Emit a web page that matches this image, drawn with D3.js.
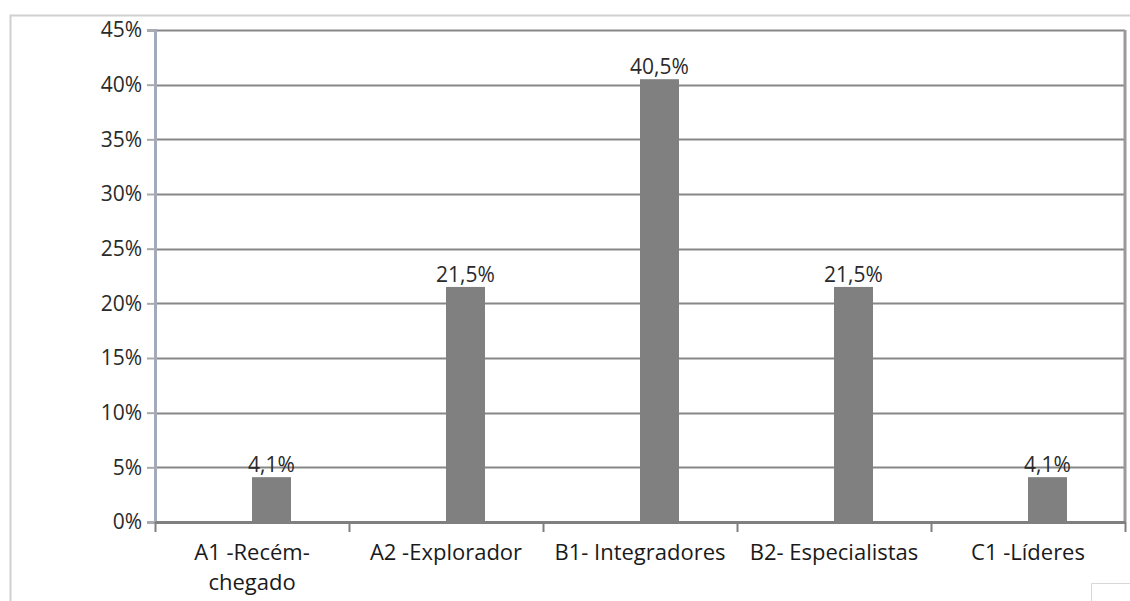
<!DOCTYPE html>
<html>
<head>
<meta charset="utf-8">
<script src="https://cdn.jsdelivr.net/npm/d3@7"></script>
<style>
  body { margin: 0; background: #fff; }
  svg { display: block; font-family: "Open Sans", sans-serif; }
</style>
</head>
<body>
<svg id="chart" width="1130" height="601"></svg>
<script>
// chart data
const categories = ["A1 -Recém-\nchegado", "A2 -Explorador", "B1- Integradores", "B2- Especialistas", "C1 -Líderes"];
const values = [4.1, 21.5, 40.5, 21.5, 4.1];
const valueLabels = ["4,1%", "21,5%", "40,5%", "21,5%", "4,1%"];
const yTicks = [0, 5, 10, 15, 20, 25, 30, 35, 40, 45];

const FONT_SIZE = 21;

const svg = d3.select("#chart");
const margin = { top: 30, right: 5, bottom: 79, left: 155 };
const width = 1130 - margin.left - margin.right;
const height = 601 - margin.top - margin.bottom;

// outer frame
svg.append("path")
  .attr("d", "M10.5,601V15.5H1130")
  .attr("fill", "none")
  .attr("stroke", "#d0d0d0")
  .attr("stroke-width", 2);

// small box bottom right
svg.append("path")
  .attr("d", "M1091.5,601V583.5H1130")
  .attr("fill", "none")
  .attr("stroke", "#d8d8d8")
  .attr("stroke-width", 1);

const g = svg.append("g").attr("transform", `translate(${margin.left},${margin.top})`);

const x = d3.scaleBand().domain(d3.range(categories.length)).range([0, width]);
// two slots per category, only the second one holds a bar
const xInner = d3.scaleBand().domain([0, 1]).range([0, 39 * 2]);
const y = d3.scaleLinear().domain([0, 45]).range([height, 0]);

// gridlines
g.selectAll(".grid")
  .data(yTicks.filter((d) => d > 0))
  .enter()
  .append("line")
  .attr("x1", 0)
  .attr("x2", width)
  .attr("y1", (d) => Math.round(y(d)) + 0.5)
  .attr("y2", (d) => Math.round(y(d)) + 0.5)
  .attr("stroke", "#878787")
  .attr("stroke-width", 2);

// right border
g.append("line")
  .attr("x1", width).attr("x2", width)
  .attr("y1", 0).attr("y2", height)
  .attr("stroke", "#9a9a9a")
  .attr("stroke-width", 3);

// bars
g.selectAll(".bar")
  .data(values)
  .enter()
  .append("rect")
  .attr("class", "bar")
  .attr("x", (d, i) => x(i) + x.bandwidth() / 2 - 39 + xInner(1))
  .attr("y", (d) => y(d))
  .attr("width", xInner.bandwidth())
  .attr("height", (d) => height - y(d))
  .attr("fill", "#808080");

// value labels
g.selectAll(".val")
  .data(values)
  .enter()
  .append("text")
  .attr("x", (d, i) => x(i) + x.bandwidth() / 2 - 39 + xInner(1) + xInner.bandwidth() / 2)
  .attr("y", (d) => y(d) - 5)
  .attr("text-anchor", "middle")
  .attr("font-size", FONT_SIZE)
  .attr("fill", "#2a2a2a")
  .text((d, i) => valueLabels[i]);

// y axis
const yAxis = g.append("g")
  .call(d3.axisLeft(y).tickValues(yTicks).tickSize(8).tickPadding(5).tickFormat((d) => d + "%"));
yAxis.select(".domain").attr("stroke", "#a3abbb").attr("stroke-width", 3);
yAxis.selectAll(".tick line").attr("stroke", "#aaa").attr("stroke-width", 2);
yAxis.selectAll(".tick text").attr("font-size", FONT_SIZE).attr("fill", "#2a2a2a").attr("font-family", "Open Sans");

// x axis
const xAxis = g.append("g")
  .attr("transform", `translate(0,${height})`)
  .call(d3.axisBottom(x).tickSize(0).tickFormat(""));
xAxis.select(".domain").attr("stroke", "#7f7f7f").attr("stroke-width", 3);

// category boundary ticks
g.selectAll(".xtick")
  .data(d3.range(categories.length + 1))
  .enter()
  .append("line")
  .attr("x1", (d) => d * x.step() + 0.5)
  .attr("x2", (d) => d * x.step() + 0.5)
  .attr("y1", height)
  .attr("y2", height + 10)
  .attr("stroke", "#7f7f7f")
  .attr("stroke-width", 2);

// category labels
g.selectAll(".cat")
  .data(categories)
  .enter()
  .append("text")
  .attr("text-anchor", "middle")
  .attr("font-size", 22)
  .attr("fill", "#1a1a1a")
  .attr("transform", (d, i) => `translate(${x(i) + x.bandwidth() / 2},${height + 38})`)
  .selectAll("tspan")
  .data((d) => d.split("\n"))
  .enter()
  .append("tspan")
  .attr("x", 0)
  .attr("dy", (d, i) => (i === 0 ? 0 : 30))
  .text((d) => d);
</script>
</body>
</html>
